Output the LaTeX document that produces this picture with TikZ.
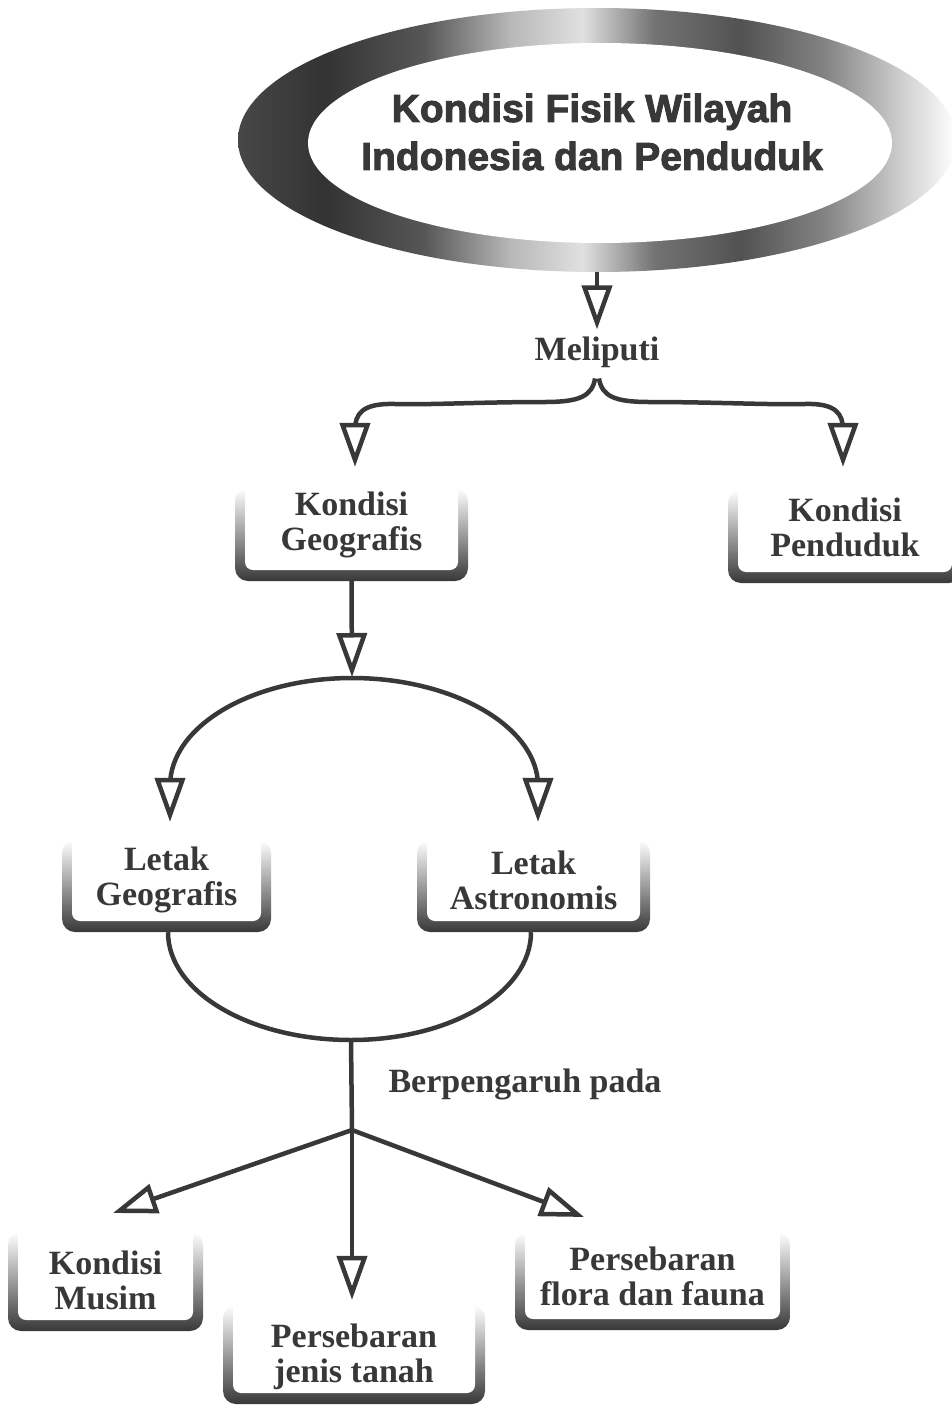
\documentclass[tikz,border=0pt]{standalone}
\usepackage{fontspec}
\setmainfont{Liberation Serif}
\newfontfamily\titlefont{Liberation Sans}[BoldFeatures={FakeBold=2.5}]
\usetikzlibrary{arrows.meta,shapes.geometric,calc}
\definecolor{ink}{HTML}{383838}
\pgfdeclarehorizontalshading{ring}{100bp}{color(0bp)=(black!72); color(25bp)=(black!72); color(31bp)=(black!80); color(38bp)=(black!66); color(44bp)=(black!28); color(49bp)=(black!12); color(54bp)=(black!55); color(60bp)=(black!68); color(66bp)=(black!48); color(71bp)=(black!20); color(75bp)=(white); color(100bp)=(white)}
\tikzset{
  tri/.tip={Triangle[fill=white, length=44pt, width=30pt]},
  conn/.style={draw=ink, line width=4.5pt},
  lbl/.style={font={\fontsize{34}{35}\selectfont\bfseries}, text=ink, align=center, inner sep=0pt},
  ttl/.style={font={\titlefont\bfseries\fontsize{39}{48}\selectfont}, text=ink, align=center, inner sep=0pt},
  boxn/.style={draw=none, inner sep=0pt}
}
\newcommand{\gbox}[7]{%
  \shade[top color=white, middle color=black!48, bottom color=black!78, rounded corners=13pt] (#2,#3) rectangle (#4,#5);
  \fill[white, rounded corners=8pt] ({#2+10},{#3-14}) rectangle ({#4-10},{#5-11});
  \node[boxn, minimum width={(#4-#2)*1pt}, minimum height={(#5-#3)*1pt}] (#1) at ({(#2+#4)/2},{(#3+#5)/2}) {};
  \node[lbl] (#1t) at ({(#2+#4)/2},#6) {#7};
}
\begin{document}
\begin{tikzpicture}[x=1pt,y=-1pt]
\useasboundingbox (0,0) rectangle (952,1405);
\fill[white] (0,0) rectangle (952,1405);

% title ring
\node[ellipse, shade, shading=ring, minimum width=718pt, minimum height=264pt, inner sep=0pt] (title) at (597,140) {};
\fill[white] (600,143) ellipse [x radius=292, y radius=100];
\node[ttl] (tt) at (592,132) {Kondisi Fisik Wilayah\\Indonesia dan Penduduk};

\node[lbl] (mel) at (597,352) {Meliputi};

\gbox{KG}{235}{488}{468}{581}{525}{Kondisi\\Geografis}
\gbox{KP}{728}{490}{962}{583}{527}{Kondisi\\Penduduk}
\gbox{LG}{62}{840}{271}{932}{880}{Letak\\Geografis}
\gbox{LA}{417}{840}{650}{932}{880}{Letak\\Astronomis}
\gbox{KM}{8}{1232}{203}{1331}{1280}{Kondisi\\Musim}
\gbox{PJ}{223}{1305}{485}{1404}{1357}{Persebaran\\jenis tanah}
\gbox{PF}{515}{1232}{790}{1330}{1276}{Persebaran\\flora dan fauna}

\node[lbl] (bp) at (525,1084) {Berpengaruh pada};

\coordinate (arcT) at (352,678);
\coordinate (bj) at (351,1040);
\coordinate (jn) at (352,1130);
\coordinate (tL) at (113,1213);
\coordinate (tR) at (584,1217);

% connectors
\draw[conn, -{tri}, shorten >=7pt] (title.south) -- (mel.north);
\draw[conn, -{tri}, shorten <=11pt, shorten >=21pt] (mel.south) .. controls (592,396) and (580,402) .. (545,402) .. controls (480,402) and (430,405) .. (395,404) .. controls (362,403) and (355,414) .. (355,430) -- (355,0 |- KG.north);
\draw[conn, -{tri}, shorten <=11pt, shorten >=23pt] (mel.south) .. controls (602,396) and (614,402) .. (649,402) .. controls (714,402) and (770,405) .. (805,404) .. controls (836,403) and (843,414) .. (843,430) -- (843,0 |- KP.north);

\draw[conn, -{tri}, shorten >=1pt] (KG.south) -- (arcT);
\draw[conn, -{tri}, shorten >=18pt] (arcT) .. controls (252,678) and (170,726) .. (170,786) -- (170,0 |- LG.north);
\draw[conn, -{tri}, shorten >=18pt] (arcT) .. controls (452,678) and (538,726) .. (538,786) -- (538,0 |- LA.north);

\draw[conn] (168,0 |- LG.south) .. controls (168,992) and (250,1040) .. (bj) .. controls (451,1040) and (531,992) .. (531,0 |- LA.south);
\draw[conn] (bj) -- (jn);
\draw[conn, -{tri}] (jn) -- (tL);
\draw[conn, -{tri}] (jn) -- (tR);
\draw[conn, -{tri}, shorten >=5pt] (jn) -- (352,0 |- PJ.north);
\end{tikzpicture}
\end{document}
